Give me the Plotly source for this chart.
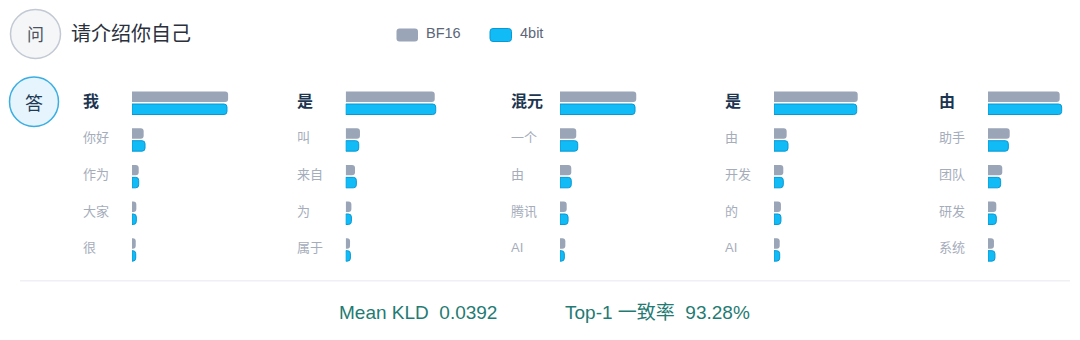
import plotly.graph_objects as go

# ---------------- data ----------------
question = "请介绍你自己"
columns_tokens = [
    ["我", "你好", "作为", "大家", "很"],
    ["是", "叫", "来自", "为", "属于"],
    ["混元", "一个", "由", "腾讯", "AI"],
    ["是", "由", "开发", "的", "AI"],
    ["由", "助手", "团队", "研发", "系统"],
]
bf16_probs = [
    [0.775, 0.094, 0.054, 0.035, 0.030],
    [0.718, 0.115, 0.075, 0.046, 0.035],
    [0.615, 0.131, 0.091, 0.054, 0.043],
    [0.675, 0.102, 0.075, 0.056, 0.046],
    [0.578, 0.175, 0.115, 0.067, 0.048],
]
int4_probs = [
    [0.766, 0.105, 0.054, 0.035, 0.030],
    [0.726, 0.105, 0.086, 0.046, 0.038],
    [0.605, 0.143, 0.091, 0.065, 0.035],
    [0.667, 0.113, 0.075, 0.056, 0.046],
    [0.594, 0.164, 0.102, 0.067, 0.056],
]
series_names = ["BF16", "4bit"]
mean_kld = 0.0392
top1_agree = 93.28

# ---------------- styling ----------------
W, H = 1080, 340
FONT = "Liberation Sans, Noto Sans CJK SC, sans-serif"
CJK = "Noto Sans CJK SC, sans-serif"
GRAY = "#9aa5b8"
BLUE = "#10bbf6"
BLUE_LINE = "#0a98d4"
TEAL = "#1f7b73"
series_fill = [GRAY, BLUE]
series_line = [GRAY, BLUE_LINE]

bar_starts_px = [132, 345.7, 560, 774, 988]
scale_px = 124          # px for probability 1.0
row_top_px, row_bot_px = 84.7, 268.0
label_offset_px = 51

fig = go.Figure()
layout_axes = {}
annotations = []
for i, (toks, b, q) in enumerate(zip(columns_tokens, bf16_probs, int4_probs)):
    n = i + 1
    xa = "x" if n == 1 else f"x{n}"
    ya = "y" if n == 1 else f"y{n}"
    rows = list(range(len(toks)))
    for s, vals in enumerate([b, q]):
        fig.add_trace(go.Bar(
            x=vals, y=rows, orientation="h", name=series_names[s],
            marker=dict(color=series_fill[s],
                        line=dict(color=series_line[s], width=0 if s == 0 else 1),
                        cornerradius=3),
            xaxis=xa, yaxis=ya, showlegend=False, hoverinfo="skip",
        ))
    domain_px = min(115, W - bar_starts_px[i] - 2)
    x0 = bar_starts_px[i] / W
    x1 = (bar_starts_px[i] + domain_px) / W
    layout_axes["xaxis" if n == 1 else f"xaxis{n}"] = dict(
        domain=[x0, x1], range=[0, domain_px / scale_px], anchor=ya,
        visible=False, fixedrange=True)
    layout_axes["yaxis" if n == 1 else f"yaxis{n}"] = dict(
        domain=[1 - row_bot_px / H, 1 - row_top_px / H], range=[4.5, -0.5],
        anchor=xa, visible=False, fixedrange=True)
    for r, t in enumerate(toks):
        top = (r == 0)
        annotations.append(dict(
            text=f"<b>{t}</b>" if top else t,
            xref=f"{xa} domain", yref=ya,
            x=-label_offset_px / domain_px, y=r, yshift=2,
            xanchor="left", yanchor="middle", showarrow=False,
            font=dict(family=FONT, size=16 if top else 13,
                      color="#1c3550" if top else "#a5adbb"),
        ))


def rounded_rect(x0, y0, x1, y1, r):
    """Path (paper coords) of a rounded rectangle given in pixels."""
    px = lambda v: v / W
    py = lambda v: 1 - v / H
    return (f"M{px(x0 + r)},{py(y0)} L{px(x1 - r)},{py(y0)} Q{px(x1)},{py(y0)} {px(x1)},{py(y0 + r)} "
            f"L{px(x1)},{py(y1 - r)} Q{px(x1)},{py(y1)} {px(x1 - r)},{py(y1)} "
            f"L{px(x0 + r)},{py(y1)} Q{px(x0)},{py(y1)} {px(x0)},{py(y1 - r)} "
            f"L{px(x0)},{py(y0 + r)} Q{px(x0)},{py(y0)} {px(x0 + r)},{py(y0)} Z")


shapes = [
    dict(type="circle", xref="paper", yref="paper",
         x0=10.5 / W, x1=60.5 / W, y0=1 - 58.5 / H, y1=1 - 9.5 / H,
         fillcolor="#f5f6f8", line=dict(color="#c3c9d4", width=1.5), layer="below"),
    dict(type="circle", xref="paper", yref="paper",
         x0=9.5 / W, x1=58.5 / W, y0=1 - 126.5 / H, y1=1 - 77 / H,
         fillcolor="#e5f4fd", line=dict(color="#3aaee2", width=1.5), layer="below"),
    dict(type="line", xref="paper", yref="paper",
         x0=20 / W, x1=1070 / W, y0=1 - 280.7 / H, y1=1 - 280.7 / H,
         line=dict(color="#eff0f4", width=1.5)),
]

# legend (rounded swatches + labels)
legend_x_px = [396.5, 490]
for s, name in enumerate(series_names):
    lx = legend_x_px[s]
    shapes.append(dict(type="path", xref="paper", yref="paper",
                       path=rounded_rect(lx, 28.5, lx + 21.5, 41.5, 3),
                       fillcolor=series_fill[s],
                       line=dict(color=series_line[s], width=1 if s else 0)))
    annotations.append(dict(text=name, xref="paper", yref="paper",
                            x=(lx + 27.5) / W, y=1 - 33.5 / H, showarrow=False,
                            xanchor="left", yanchor="middle",
                            font=dict(family=FONT, size=14.5, color="#5d6678")))

# header / answer badges / summary
annotations += [
    dict(text="问", xref="paper", yref="paper", x=35.5 / W, y=1 - 33.5 / H,
         showarrow=False, xanchor="center", yanchor="middle",
         font=dict(family=CJK, size=17, color="#4b5262")),
    dict(text=question, xref="paper", yref="paper", x=69 / W, y=1 - 33 / H,
         showarrow=False, xanchor="left", yanchor="middle",
         font=dict(family=CJK, size=20, color="#2a313d")),
    dict(text="答", xref="paper", yref="paper", x=34 / W, y=1 - 101.5 / H,
         showarrow=False, xanchor="center", yanchor="middle",
         font=dict(family=CJK, size=18, color="#1e3a56")),
    dict(text=f"Mean KLD\u00a0\u00a0{mean_kld:.4f}", xref="paper", yref="paper",
         x=337 / W, y=1 - 312.5 / H, showarrow=False, xanchor="left", yanchor="middle",
         font=dict(family=FONT, size=19, color=TEAL)),
    dict(text=f"Top-1 一致率\u00a0\u00a0{top1_agree:.2f}%", xref="paper", yref="paper",
         x=563 / W, y=1 - 312.5 / H, showarrow=False, xanchor="left", yanchor="middle",
         font=dict(family=FONT, size=19, color=TEAL)),
]

fig.update_layout(
    width=W, height=H, margin=dict(l=0, r=0, t=0, b=0),
    paper_bgcolor="white", plot_bgcolor="white",
    barmode="group", bargap=0.32, bargroupgap=0.16,
    showlegend=False,
    annotations=annotations, shapes=shapes,
    **layout_axes,
)

fig.write_html("out.html")
